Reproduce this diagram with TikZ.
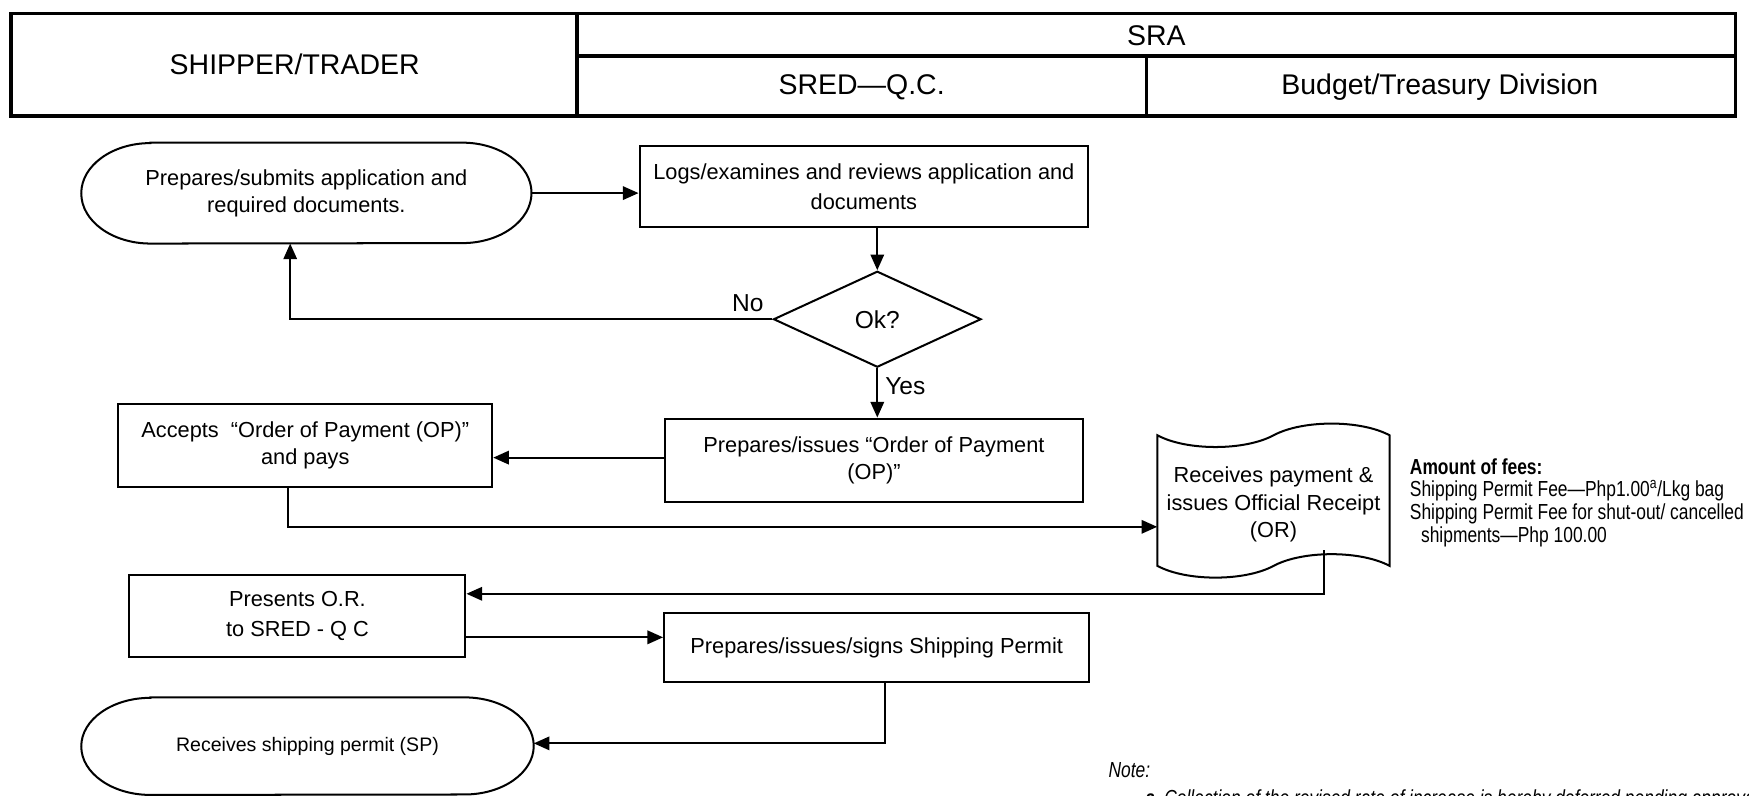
\documentclass[tikz,border=0pt]{standalone}
\usepackage{fontspec}
\setmainfont{Liberation Sans}
\newfontfamily\narrowfont[FakeStretch=0.8]{Liberation Sans}
\usetikzlibrary{arrows.meta,shapes.geometric,calc}
\begin{document}
\begin{tikzpicture}[x=1pt,y=-1pt,
  hdr/.style={line width=3.1pt},
  hdrtxt/.style={inner sep=0pt,font=\fontsize{25.5}{30}\selectfont},
  box/.style={draw,line width=1.8pt,align=center,inner sep=0pt,font=\fontsize{19.5}{24.5}\selectfont},
  ghost/.style={align=center,inner sep=0pt,font=\fontsize{19.5}{24.5}\selectfont},
  outline/.style={line width=1.8pt},
  conn/.style={line width=1.8pt,-{Triangle[length=14pt,width=12pt]}},
  lbl/.style={inner sep=0pt,font=\fontsize{22}{26}\selectfont},
  fee/.style={anchor=base west,inner sep=0pt,font=\narrowfont\fontsize{19.5}{20}\selectfont},
  note/.style={anchor=base west,inner sep=0pt,font=\narrowfont\itshape\fontsize{19.5}{20}\selectfont}
]
\useasboundingbox (0,0) rectangle (1567,713);
\begin{scope}
\clip (0,0) rectangle (1567,713);

% header table
\draw[hdr] (10,12) rectangle (1555,104);
\draw[hdr] (517,12) -- (517,104);
\draw[hdr] (517,50) -- (1555,50);
\draw[hdr] (1027,50) -- (1027,104);
\node[hdrtxt] (hship) at (264,58) {SHIPPER/TRADER};
\node[hdrtxt] (hsra) at (1036,32) {SRA};
\node[hdrtxt] (hsred) at (772,78) {SRED—Q.C.};
\node[hdrtxt] (hbud) at (1290,78) {Budget/Treasury Division};

% terminal 1
\node[ghost,minimum width=403pt,minimum height=90pt,font=\fontsize{19.5}{24}\selectfont] (T1) at (274.5,173) {Prepares/submits application and\\required documents.};
\draw[outline] ([xshift=62pt]T1.north west) -- ([xshift=-62pt]T1.north east)
  arc[start angle=-90,end angle=90,x radius=62,y radius=45]
  -- ([xshift=62pt]T1.south west)
  arc[start angle=90,end angle=270,x radius=62,y radius=45] -- cycle;

% process boxes
\node[box,minimum width=402pt,minimum height=72pt,font=\fontsize{19.5}{27}\selectfont] (R2) at (774,167) {Logs/examines and reviews application and\\documents};
\node[box,diamond,aspect=2.18,minimum width=186pt,minimum height=86pt,font=\fontsize{22}{26}\selectfont] (D3) at (786,286) {Ok?};
\node[box,minimum width=374pt,minimum height=75pt] (R4) at (783,412.5) {Prepares/issues “Order of Payment\\(OP)”};
\node[box,minimum width=335pt,minimum height=74pt] (R5) at (273.5,399) {Accepts\ \ “Order of Payment (OP)”\\and pays};
\node[box,minimum width=301pt,minimum height=74pt,font=\fontsize{19.5}{27}\selectfont] (R7) at (266.5,552) {Presents O.R.\\to SRED - Q C};
\node[box,minimum width=381pt,minimum height=62pt] (R8) at (785.5,580) {Prepares/issues/signs Shipping Permit};

% document (punched tape)
\node[ghost,minimum width=208pt,minimum height=116pt] (Doc) at (1141,452) {Receives payment \&\\issues Official Receipt\\(OR)};
\draw[outline] (1037,390) .. controls (1063,404) and (1115,404) .. (1141,390)
  .. controls (1167,376) and (1219,376) .. (1245,390)
  -- (1245,507) .. controls (1219,493) and (1167,493) .. (1141,507)
  .. controls (1115,521) and (1063,521) .. (1037,507) -- cycle;

% terminal 2
\node[ghost,minimum width=405pt,minimum height=87pt,font=\fontsize{17.5}{21}\selectfont] (T9) at (275.5,668.5) {Receives shipping permit (SP)};
\draw[outline] ([xshift=62pt]T9.north west) -- ([xshift=-62pt]T9.north east)
  arc[start angle=-90,end angle=90,x radius=62,y radius=43.5]
  -- ([xshift=62pt]T9.south west)
  arc[start angle=90,end angle=270,x radius=62,y radius=43.5] -- cycle;

% connectors
\draw[conn] (T1.east) -- (T1.east -| R2.west);
\draw[conn] (D3.north |- R2.south) -- (D3.north);
\coordinate (nx) at (260,286);
\draw[conn] (D3.west) -- (nx) -- (nx |- T1.south);
\node[lbl] (no) at (670,272) {No};
\draw[conn] (D3.south) -- (D3.south |- R4.north);
\node[lbl,anchor=west] (yes) at (793,346) {Yes};
\coordinate (y410) at (0,410);
\draw[conn] (R4.west |- y410) -- (R5.east |- y410);
\coordinate (c258) at (258,472);
\draw[conn] (R5.south -| c258) -- (c258) -- (c258 -| Doc.west);
\coordinate (docout) at (1186,493);
\coordinate (c1186) at (1186,532);
\draw[conn] (docout) -- (c1186) -- (c1186 -| R7.east);
\coordinate (y571) at (0,571);
\draw[conn] (R7.east |- y571) -- (R8.west |- y571);
\coordinate (c793) at (793,666);
\draw[conn] (R8.south -| c793) -- (c793) -- (c793 -| T9.east);

% fees
\node[fee,font=\narrowfont\bfseries\fontsize{19.5}{20}\selectfont] (f1) at (1263,425) {Amount of fees:};
\node[fee] (f2) at (1263,445) {Shipping Permit Fee—Php1.00\textsuperscript{a}/Lkg bag};
\node[fee] (f3) at (1263,465) {Shipping Permit Fee for shut-out/ cancelled};
\node[fee] (f4) at (1273,486) {shipments—Php 100.00};

% note
\node[note] (n1) at (993,697) {Note:};
\node[note,font=\narrowfont\bfseries\itshape\fontsize{19.5}{20}\selectfont] (n2) at (1026,722) {a};
\node[note] (n3) at (1043,722) {Collection of the revised rate of increase is hereby deferred pending approval};
\end{scope}
\end{tikzpicture}
\end{document}
